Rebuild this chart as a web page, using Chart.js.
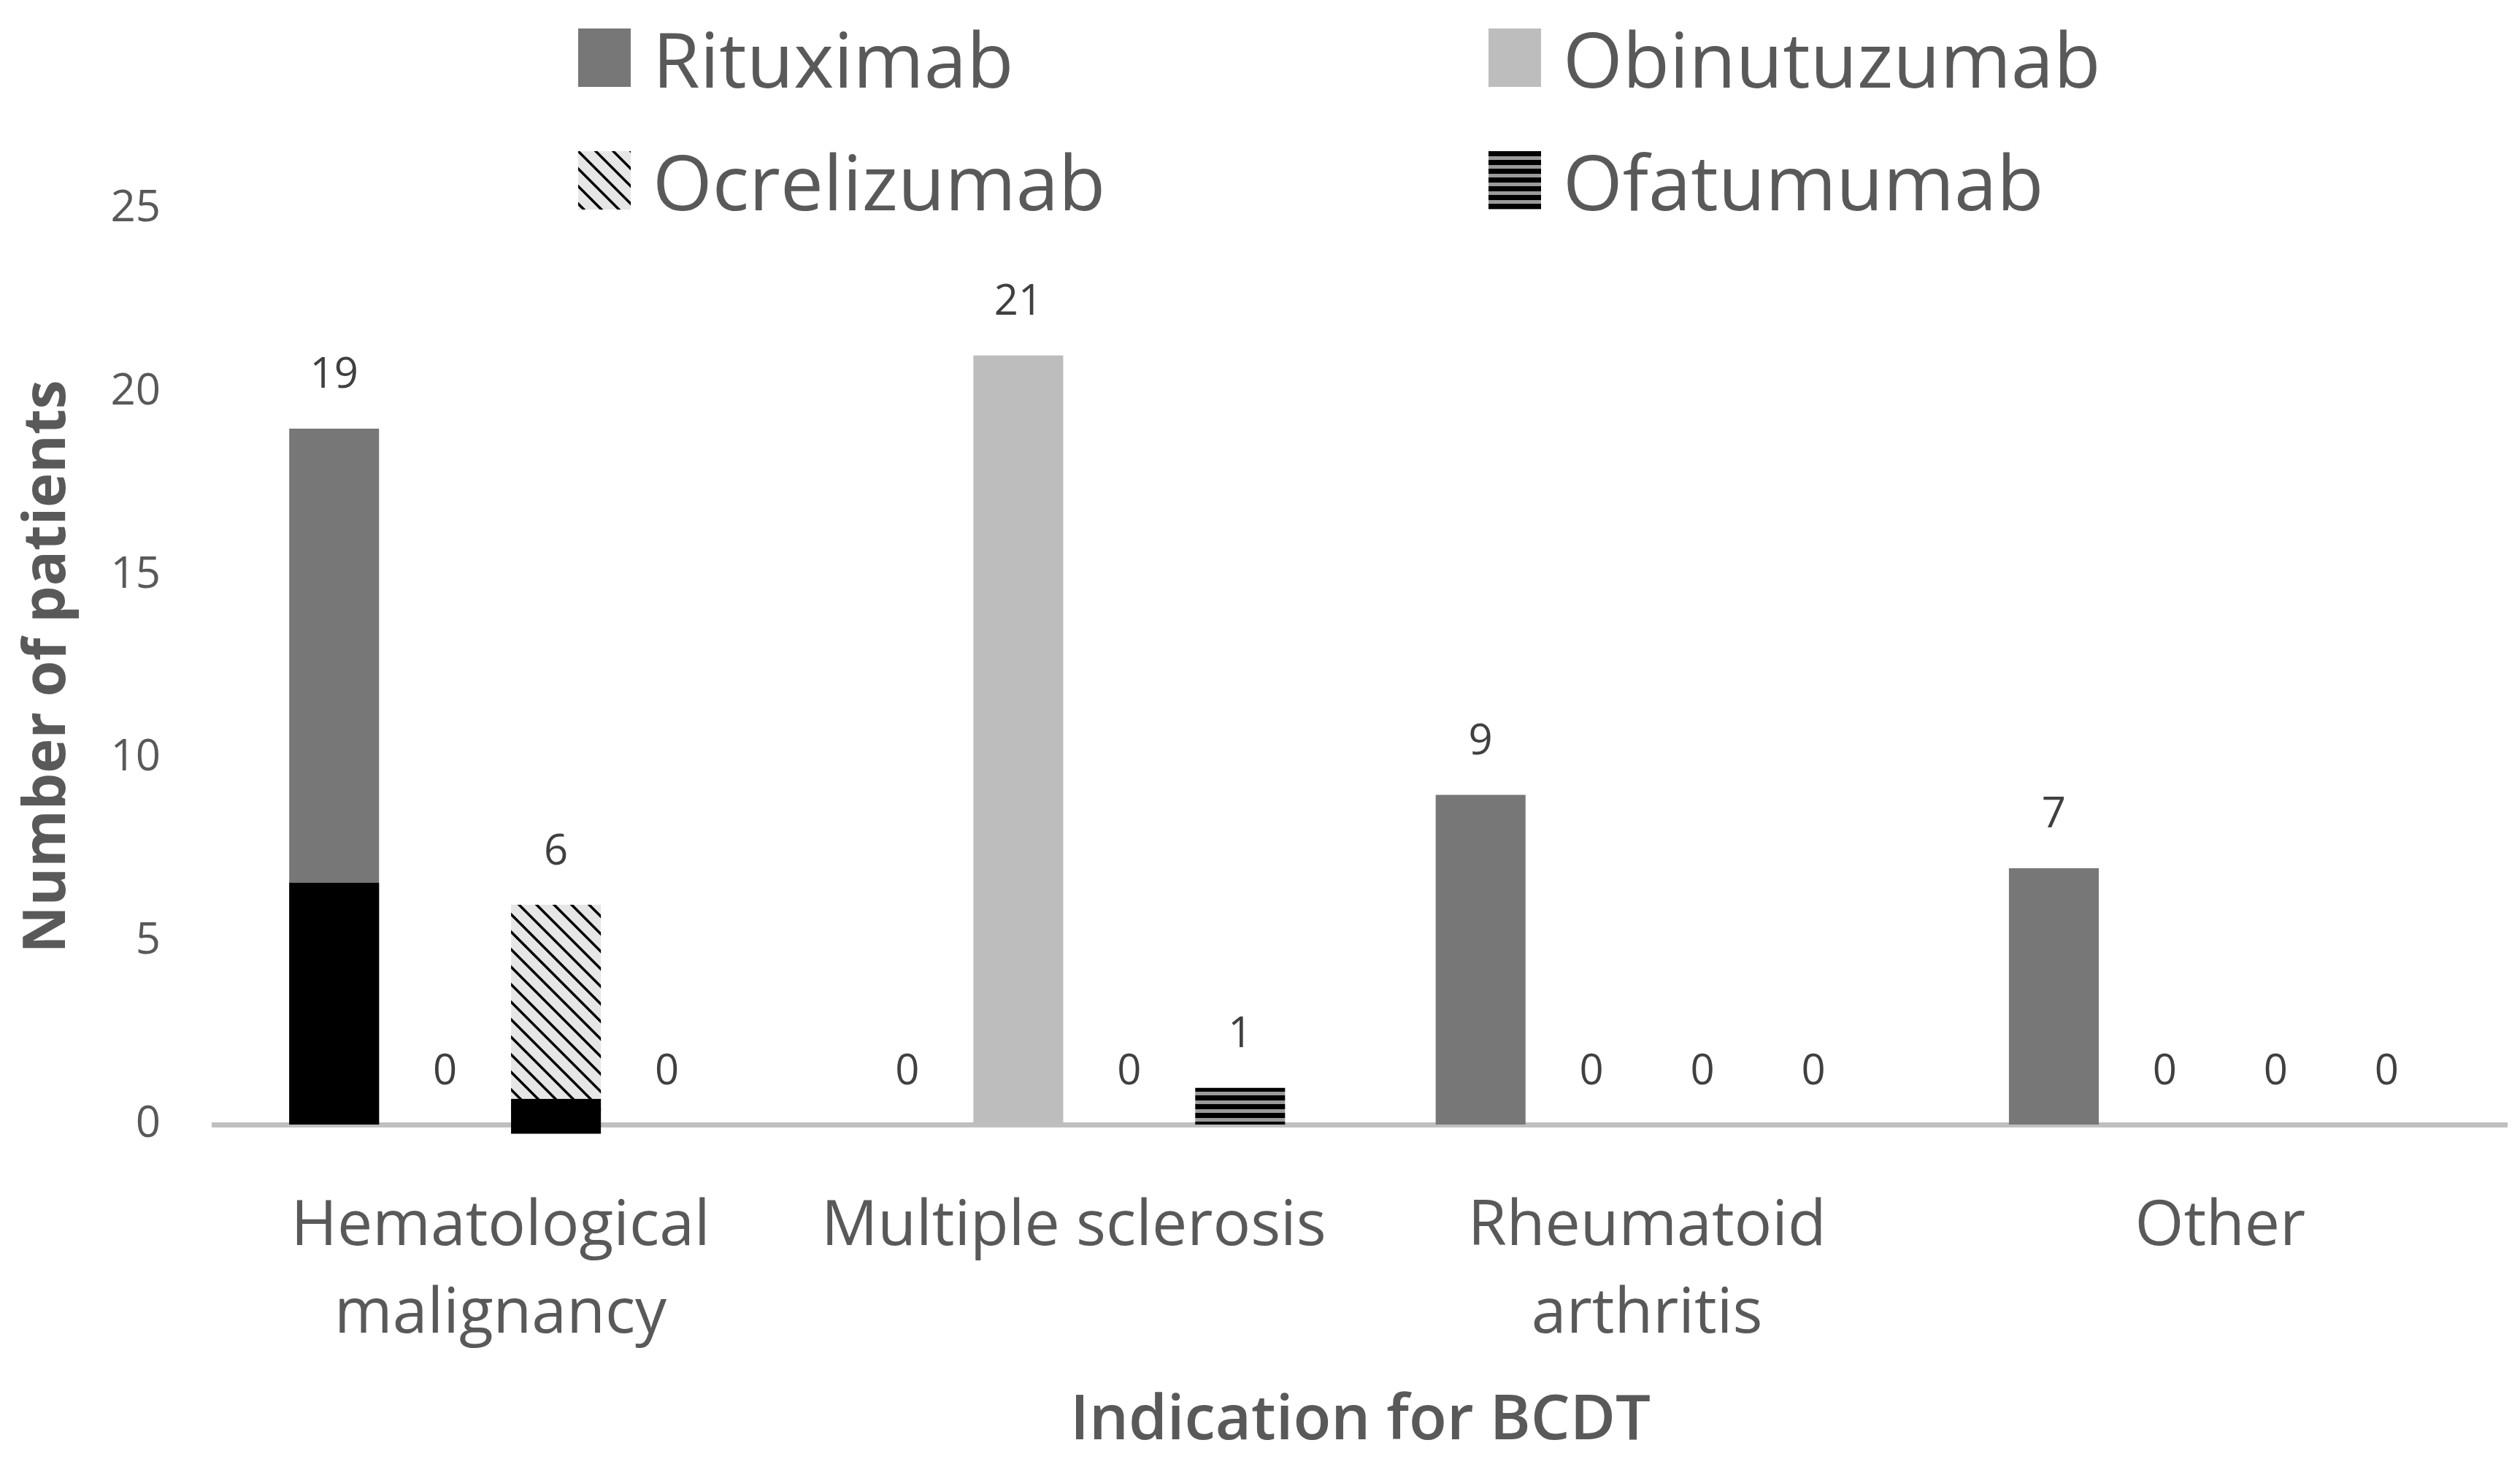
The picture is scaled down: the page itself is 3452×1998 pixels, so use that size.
<!DOCTYPE html>
<html>
<head>
<meta charset="utf-8">
<script src="https://cdn.jsdelivr.net/npm/chart.js@4.4.1/dist/chart.umd.min.js"></script>
<style>
    html, body { margin: 0; padding: 0; background: #ffffff; }
    #wrap { position: relative; width: 3452px; height: 1998px; }
    #legend { position: absolute; left: 0; top: 0; width: 3452px; height: 320px; pointer-events: none; }
    .leg-item { position: absolute; display: flex; align-items: center; font-family: "Open Sans", sans-serif; font-size: 105px; color: #595959; white-space: nowrap; }
    .leg-box { width: 72px; height: 80px; margin-right: 30px; background-size: auto; }
</style>
</head>
<body>
<div id="wrap">
    <canvas id="chart"></canvas>
    <div id="legend"></div>
</div>
<script>
const categories = [['Hematological', 'malignancy'], 'Multiple sclerosis', ['Rheumatoid', 'arthritis'], 'Other'];
const seriesNames = ['Rituximab', 'Obinutuzumab', 'Ocrelizumab', 'Ofatumumab'];
const rituximab = [19, 0, 9, 7];
const obinutuzumab = [0, 21, 0, 0];
const ocrelizumab = [6, 0, 0, 0];
const ofatumumab = [0, 1, 0, 0];
const yTicks = [0, 5, 10, 15, 20, 25];

// black blocks sitting on two of the hematological bars
const overlaySeries = [0, 2];
const overlayCategory = [0, 0];
const overlayLow = [0, -0.25];
const overlayHigh = [6.6, 0.7];

const textColor = '#595959';

function makeHatch() {
    const c = document.createElement('canvas');
    c.width = 24; c.height = 24;
    const g = c.getContext('2d');
    g.fillStyle = '#e6e6e6';
    g.fillRect(0, 0, 24, 24);
    g.strokeStyle = '#000000';
    g.lineWidth = 3.5;
    g.beginPath();
    g.moveTo(-6, -6); g.lineTo(30, 30);
    g.moveTo(-6, 18); g.lineTo(6, 30);
    g.moveTo(18, -6); g.lineTo(30, 6);
    g.stroke();
    return c;
}

function makeStripes() {
    const c = document.createElement('canvas');
    c.width = 12; c.height = 12;
    const g = c.getContext('2d');
    g.fillStyle = '#9a9a9a';
    g.fillRect(0, 0, 12, 12);
    g.fillStyle = '#000000';
    g.fillRect(0, 0, 12, 7);
    return c;
}

const hatchCanvas = makeHatch();
const stripeCanvas = makeStripes();
const ctx = document.getElementById('chart').getContext('2d');
const hatch = ctx.createPattern(hatchCanvas, 'repeat');
const stripes = ctx.createPattern(stripeCanvas, 'repeat');

const fills = ['#777777', '#bdbdbd', hatch, stripes];
const legendBg = ['#777777', '#bdbdbd', 'url(' + hatchCanvas.toDataURL() + ')', 'url(' + stripeCanvas.toDataURL() + ')'];
const legendPos = [[792, 81], [2039, 81], [792, 249], [2039, 249]];

function buildLegend() {
    const box = document.getElementById('legend');
    seriesNames.forEach((name, i) => {
        const item = document.createElement('div');
        item.className = 'leg-item';
        item.style.left = legendPos[i][0] + 'px';
        item.style.top = (legendPos[i][1] - 74) + 'px';
        item.style.height = '144px';
        item.innerHTML = `<span class="leg-box" style="background:${legendBg[i]}"></span><span>${name}</span>`;
        box.appendChild(item);
    });
}

const overlayPlugin = {
    id: 'overlay',
    afterDatasetsDraw(chart) {
        const y = chart.scales.y;
        const c = chart.ctx;
        c.save();
        c.fillStyle = '#000000';
        overlaySeries.forEach((ds, k) => {
            const el = chart.getDatasetMeta(ds).data[overlayCategory[k]];
            const top = y.getPixelForValue(overlayHigh[k]);
            const bottom = y.getPixelForValue(overlayLow[k]);
            c.fillRect(el.x - el.width / 2, top, el.width, bottom - top);
        });
        c.restore();
    }
};

const valueLabels = {
    id: 'valueLabels',
    afterDatasetsDraw(chart) {
        const y = chart.scales.y;
        const c = chart.ctx;
        c.save();
        c.font = '400 58px "Open Sans", sans-serif';
        c.fillStyle = '#404040';
        c.textAlign = 'center';
        c.textBaseline = 'middle';
        chart.data.datasets.forEach((ds, i) => {
            chart.getDatasetMeta(i).data.forEach((el, j) => {
                const v = ds.data[j];
                c.fillText(String(v), el.x, y.getPixelForValue(v) - 72);
            });
        });
        c.restore();
    }
};

const seriesData = [rituximab, obinutuzumab, ocrelizumab, ofatumumab];

new Chart(ctx, {
    type: 'bar',
    data: {
        labels: categories,
        datasets: seriesNames.map((name, i) => ({
            label: name,
            data: seriesData[i],
            backgroundColor: fills[i],
            borderWidth: 0,
            categoryPercentage: 0.774,
            barPercentage: 0.81
        }))
    },
    options: {
        responsive: true,
        maintainAspectRatio: false,
        animation: false,
        events: [],
        layout: { padding: { top: 286, left: 0, right: 18, bottom: 0 } },
        plugins: {
            legend: { display: false },
            tooltip: { enabled: false }
        },
        scales: {
            x: {
                grid: { display: false, drawTicks: false },
                border: { display: true, color: '#bfbfbf', width: 7 },
                ticks: {
                    color: textColor,
                    padding: 80,
                    font: { family: '"Open Sans", sans-serif', size: 86, lineHeight: 1.4 },
                    maxRotation: 0,
                    autoSkip: false
                },
                title: {
                    display: true,
                    text: 'Indication for BCDT',
                    color: textColor,
                    font: { family: '"Open Sans", sans-serif', size: 85, weight: '600' },
                    padding: { top: 0, bottom: 0 }
                },
                afterFit(scale) { scale.height = 458; }
            },
            y: {
                min: 0,
                max: 25,
                afterBuildTicks(scale) { scale.ticks = yTicks.map(v => ({ value: v })); },
                grid: { display: false, drawTicks: false },
                border: { display: false },
                ticks: {
                    color: textColor,
                    padding: 73,
                    font: { family: '"Open Sans", sans-serif', size: 60 }
                },
                title: {
                    display: true,
                    text: 'Number of patients',
                    color: textColor,
                    font: { family: '"Open Sans", sans-serif', size: 80, weight: '700' },
                    padding: { top: 18, bottom: 0 }
                },
                afterFit(scale) { scale.width = 293; }
            }
        }
    },
    plugins: [overlayPlugin, valueLabels]
});

buildLegend();
</script>
</body>
</html>
